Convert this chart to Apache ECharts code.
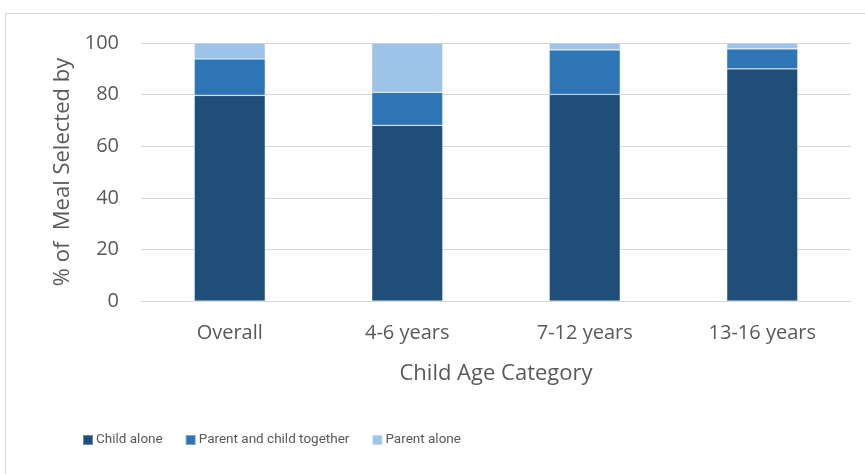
<!DOCTYPE html>
<html>
<head>
<meta charset="utf-8">
<script src="https://cdn.jsdelivr.net/npm/echarts@6/dist/echarts.min.js"></script>
<style>
html,body{margin:0;padding:0;background:#fff;}
#chart{width:865px;height:474px;}
</style>
</head>
<body>
<div id="chart"></div>
<script>
const categories = ['Overall', '4-6 years', '7-12 years', '13-16 years'];
const childAlone = [79.7, 68.1, 80.1, 90.0];
const parentAndChild = [14.1, 12.8, 17.2, 7.7];
const parentAlone = [6.2, 19.1, 2.7, 2.3];
const seriesNames = ['Child alone', 'Parent and child together', 'Parent alone'];
const yTicks = [0, 20, 40, 60, 80, 100];

const FONT = '"Open Sans", sans-serif';
const LEGEND_FONT = 'Roboto, "Open Sans", sans-serif';
const TXT = '#595959';
const chart = echarts.init(document.getElementById('chart'), null, {renderer: 'canvas'});
const colors = ['#1F4E79', '#2E75B6', '#9DC3E6'];
const dataSets = [childAlone, parentAndChild, parentAlone];

chart.setOption({
  animation: false,
  backgroundColor: '#fff',
  graphic: [{
    type: 'rect', silent: true, z: -1,
    shape: {x: 5.5, y: 13.5, width: 900, height: 500},
    style: {fill: 'none', stroke: '#d9d9d9', lineWidth: 1}
  }],
  grid: {left: 141, right: 14, top: 43, bottom: 173, containLabel: false},
  legend: {
    bottom: 22, left: 77,
    itemWidth: 10, itemHeight: 10, itemGap: 22,
    icon: 'rect',
    textStyle: {color: TXT, fontFamily: LEGEND_FONT, fontSize: 13.5, padding: [0, 0, 0, -2]},
    data: seriesNames
  },
  xAxis: {
    type: 'category', data: categories,
    axisLine: {show: true, lineStyle: {color: '#d9d9d9', width: 1}},
    axisTick: {show: false},
    axisLabel: {color: TXT, fontFamily: FONT, fontSize: 20, margin: 22},
    name: 'Child Age Category', nameLocation: 'middle', nameGap: 62,
    nameTextStyle: {color: TXT, fontFamily: FONT, fontSize: 22}
  },
  yAxis: {
    type: 'value', min: 0, max: 100, interval: 20,
    axisLine: {show: false}, axisTick: {show: false},
    splitLine: {lineStyle: {color: '#d9d9d9', width: 1}},
    axisLabel: {color: TXT, fontFamily: FONT, fontSize: 20, margin: 22,
      formatter: v => yTicks.includes(v) ? String(v) : ''},
    name: '% of  Meal Selected by', nameLocation: 'middle', nameGap: 67, nameRotate: 90,
    nameTextStyle: {color: TXT, fontFamily: FONT, fontSize: 22}
  },
  series: seriesNames.map((n, i) => ({
    name: n, type: 'bar', stack: 'total', barWidth: '40%',
    itemStyle: {color: colors[i], borderColor: 'rgba(255,255,255,0.35)', borderWidth: 0.7},
    data: dataSets[i]
  }))
});
</script>
</body>
</html>
